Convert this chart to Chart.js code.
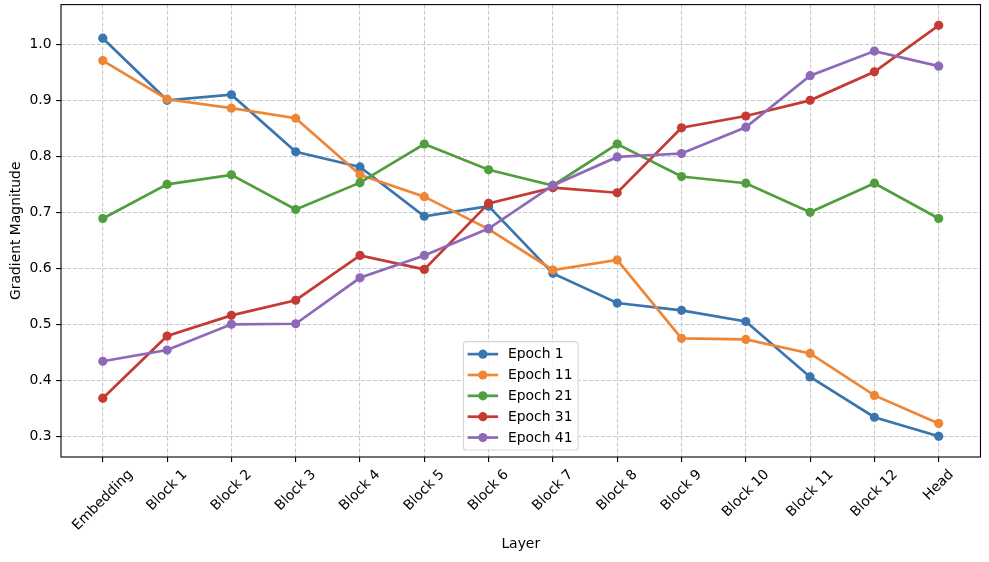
<!DOCTYPE html>
<html lang="en">
<head>
    <meta charset="UTF-8">
    <title>Gradient Magnitude per Layer</title>
    <script src="https://cdn.jsdelivr.net/npm/chart.js"></script>
    <style>
        body { margin: 0; background: #fff; overflow: hidden; }
        .wrap { width: 989px; height: 562px; position: relative; }
    </style>
</head>
<body>
    <div class="wrap">
        <canvas id="gradChart"></canvas>
    </div>

    <script>
        // data
        const layers = ['Embedding', 'Block 1', 'Block 2', 'Block 3', 'Block 4', 'Block 5', 'Block 6',
                        'Block 7', 'Block 8', 'Block 9', 'Block 10', 'Block 11', 'Block 12', 'Head'];
        const epoch1  = [1.011, 0.900, 0.910, 0.808, 0.781, 0.693, 0.711, 0.591, 0.538, 0.525, 0.505, 0.406, 0.334, 0.300];
        const epoch11 = [0.971, 0.902, 0.886, 0.868, 0.767, 0.728, 0.670, 0.597, 0.615, 0.475, 0.473, 0.448, 0.373, 0.323];
        const epoch21 = [0.689, 0.750, 0.767, 0.705, 0.753, 0.822, 0.776, 0.748, 0.822, 0.764, 0.752, 0.700, 0.752, 0.689];
        const epoch31 = [0.368, 0.479, 0.516, 0.543, 0.623, 0.598, 0.716, 0.744, 0.735, 0.851, 0.872, 0.900, 0.951, 1.034];
        const epoch41 = [0.434, 0.454, 0.500, 0.501, 0.583, 0.623, 0.671, 0.748, 0.799, 0.805, 0.852, 0.944, 0.988, 0.961];
        const seriesNames = ['Epoch 1', 'Epoch 11', 'Epoch 21', 'Epoch 31', 'Epoch 41'];
        const yTicks = [0.3, 0.4, 0.5, 0.6, 0.7, 0.8, 0.9, 1.0];

        const colors = ['#3b75af', '#ef8636', '#519e3e', '#c53a32', '#8d69b8'];
        const FONT = '"DejaVu Sans", "Liberation Sans", sans-serif';
        const FS = 13.9;

        const allSeries = [epoch1, epoch11, epoch21, epoch31, epoch41];
        const datasets = allSeries.map((vals, k) => ({
            label: seriesNames[k],
            data: vals.map((v, i) => ({ x: i, y: v })),
            borderColor: colors[k],
            backgroundColor: colors[k],
            pointBackgroundColor: colors[k],
            pointBorderColor: colors[k],
            borderWidth: 2.7,
            pointRadius: 4.6,
            pointBorderWidth: 0,
            tension: 0,
            order: allSeries.length - k   // later epochs on top
        }));

        // frame, rotated x labels and a matplotlib-like legend
        const decorPlugin = {
            id: 'decor',
            afterDatasetsDraw(chart) {
                const { ctx, chartArea: a } = chart;
                ctx.save();
                ctx.strokeStyle = '#000';
                ctx.lineWidth = 1.1;
                ctx.strokeRect(a.left, a.top, a.right - a.left, a.bottom - a.top);
                ctx.restore();
            },
            afterDraw(chart) {
                const { ctx, chartArea: a } = chart;
                const xs = chart.scales.x;

                // x tick labels, rotated 45deg, centred under the tick
                ctx.save();
                ctx.font = FS + 'px ' + FONT;
                ctx.fillStyle = '#000';
                ctx.textAlign = 'center';
                ctx.textBaseline = 'middle';
                const h = FS * 1.165;
                const top = a.bottom + 9.7;
                layers.forEach((lab, i) => {
                    const w = ctx.measureText(lab).width;
                    const cx = xs.getPixelForValue(i);
                    const cy = top + (w + h) * Math.SQRT1_2 / 2;
                    ctx.save();
                    ctx.translate(cx, cy);
                    ctx.rotate(-Math.PI / 4);
                    ctx.fillText(lab, 0, 0);
                    ctx.restore();
                });
                ctx.restore();

                // legend, lower center
                ctx.save();
                ctx.font = FS + 'px ' + FONT;
                const pad = 0.4 * FS, handle = 2 * FS, textPad = 0.8 * FS, spacing = 0.5 * FS;
                const maxW = Math.max(...seriesNames.map(s => ctx.measureText(s).width));
                const boxW = pad * 2 + handle + textPad + maxW;
                const boxH = pad * 2 + seriesNames.length * FS + (seriesNames.length - 1) * spacing;
                const bx = (a.left + a.right) / 2 - boxW / 2;
                const by = a.bottom - 0.5 * FS - boxH;
                const r = 2.8;
                ctx.beginPath();
                ctx.roundRect(bx, by, boxW, boxH, r);
                ctx.fillStyle = 'rgba(255,255,255,0.8)';
                ctx.fill();
                ctx.strokeStyle = 'rgba(204,204,204,0.8)';
                ctx.lineWidth = 1.1;
                ctx.stroke();

                seriesNames.forEach((name, k) => {
                    const cy = by + pad + FS / 2 + k * (FS + spacing);
                    const lx = bx + pad;
                    ctx.strokeStyle = colors[k];
                    ctx.lineWidth = 2.7;
                    ctx.lineCap = 'square';
                    ctx.beginPath();
                    ctx.moveTo(lx, cy);
                    ctx.lineTo(lx + handle, cy);
                    ctx.stroke();
                    ctx.fillStyle = colors[k];
                    ctx.beginPath();
                    ctx.arc(lx + handle / 2, cy, 4.6, 0, Math.PI * 2);
                    ctx.fill();
                    ctx.fillStyle = '#000';
                    ctx.textAlign = 'left';
                    ctx.textBaseline = 'middle';
                    ctx.fillText(name, lx + handle + textPad, cy + 0.5);
                });
                ctx.restore();
            }
        };

        const gridCommon = {
            color: '#c8c8c8',
            lineWidth: 1.1,
            drawTicks: true,
            tickLength: 4.9,
            tickColor: '#000',
            tickWidth: 1.1,
            tickBorderDash: []
        };

        const ctx1 = document.getElementById('gradChart').getContext('2d');
        const gradChart = new Chart(ctx1, {
            type: 'line',
            data: { datasets: datasets },
            options: {
                responsive: true,
                maintainAspectRatio: false,
                animation: false,
                layout: { padding: { top: 4.5, right: 8.5, bottom: 0, left: 0 } },
                plugins: {
                    legend: { display: false },
                    tooltip: { enabled: false }
                },
                scales: {
                    x: {
                        type: 'linear',
                        min: -0.65,
                        max: 13.65,
                        afterBuildTicks: (s) => { s.ticks = layers.map((_, i) => ({ value: i })); },
                        afterFit: (s) => { s.height = 105; s.paddingLeft = 0; s.paddingRight = 0; },
                        ticks: { display: false },
                        grid: gridCommon,
                        border: { display: false, dash: [4, 2] },
                        title: {
                            display: true,
                            text: 'Layer',
                            color: '#000',
                            font: { family: FONT, size: FS },
                            padding: { top: 0, bottom: 9.7 }
                        }
                    },
                    y: {
                        type: 'linear',
                        min: 0.263,
                        max: 1.071,
                        afterBuildTicks: (s) => { s.ticks = yTicks.map(v => ({ value: v })); },
                        afterFit: (s) => { s.width = 61; s.paddingTop = 0; s.paddingBottom = 0; },
                        ticks: {
                            color: '#000',
                            padding: 4.5,
                            font: { family: FONT, size: FS },
                            callback: (v) => Number(v).toFixed(1)
                        },
                        grid: gridCommon,
                        border: { display: false, dash: [4, 2] },
                        title: {
                            display: true,
                            text: 'Gradient Magnitude',
                            color: '#000',
                            font: { family: FONT, size: FS },
                            padding: { top: 7.7, bottom: 0 }
                        }
                    }
                }
            },
            plugins: [decorPlugin]
        });
    </script>
</body>
</html>
